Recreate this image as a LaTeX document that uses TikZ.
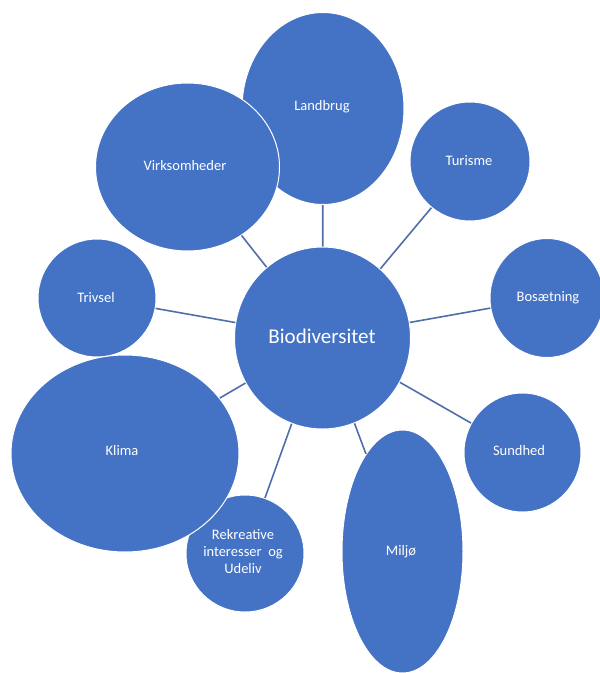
\documentclass[tikz,border=0pt]{standalone}
\usepackage{fontspec}
\setmainfont{Carlito}
\usetikzlibrary{shapes.geometric}
\definecolor{bubblefill}{RGB}{68,114,196}
\definecolor{linkcol}{RGB}{80,110,170}
\begin{document}
\begin{tikzpicture}[x=1pt,y=-1pt,
  bubble/.style={ellipse, fill=bubblefill, draw=white, line width=1pt, inner sep=0pt},
  lbl/.style={text=white, font=\fontsize{14.5}{17}\selectfont, align=center, inner sep=0pt},
  biglbl/.style={text=white, font=\fontsize{21}{25}\selectfont, inner sep=0pt},
  link/.style={draw=linkcol, line width=1.6pt}]
\useasboundingbox (0,0) rectangle (600,673);
% bubbles
\node[bubble, minimum width=162pt, minimum height=192pt] (land) at (323,108.5) {};
\node[bubble, minimum width=184pt, minimum height=168pt] (virk) at (187.5,167) {};
\node[bubble, minimum width=120pt, minimum height=119pt] (tur) at (470,161.5) {};
\node[bubble, minimum width=118pt, minimum height=118pt] (triv) at (97,298) {};
\node[bubble, minimum width=114pt, minimum height=119pt] (bos) at (547,298) {};
\node[bubble, minimum width=118pt, minimum height=117pt] (rek) at (245,553.5) {};
\node[bubble, minimum width=228pt, minimum height=197pt] (klima) at (125,453.5) {};
\node[bubble, minimum width=121pt, minimum height=243pt] (milj) at (402.5,551.5) {};
\node[bubble, minimum width=117pt, minimum height=119pt] (sund) at (522.5,452.5) {};
\node[bubble, minimum width=176pt, minimum height=182pt] (bio) at (322.5,338) {};
% labels
\node[lbl] (landt) at (322,107) {Landbrug};
\node[lbl] (virkt) at (185,166) {Virksomheder};
\node[lbl] (turt) at (469,161) {Turisme};
\node[lbl] (trivt) at (96,298) {Trivsel};
\node[lbl] (bost) at (548,298) {Bosætning};
\node[lbl] (rekt) at (243,552) {Rekreative\\interesser~ og\\Udeliv};
\node[lbl] (klimat) at (122,451) {Klima};
\node[lbl] (miljt) at (401,552) {Miljø};
\node[lbl] (sundt) at (519,451) {Sundhed};
\node[biglbl] (biot) at (322,336) {Biodiversitet};
% connectors
\draw[link] (bio) -- (land);
\draw[link] (bio) -- (virk);
\draw[link] (bio) -- (tur);
\draw[link] (bio) -- (triv);
\draw[link] (bio) -- (bos);
\draw[link] (bio) -- (klima);
\draw[link] (bio) -- (rek);
\draw[link] (bio) -- (milj);
\draw[link] (bio) -- (sund);
\end{tikzpicture}
\end{document}
